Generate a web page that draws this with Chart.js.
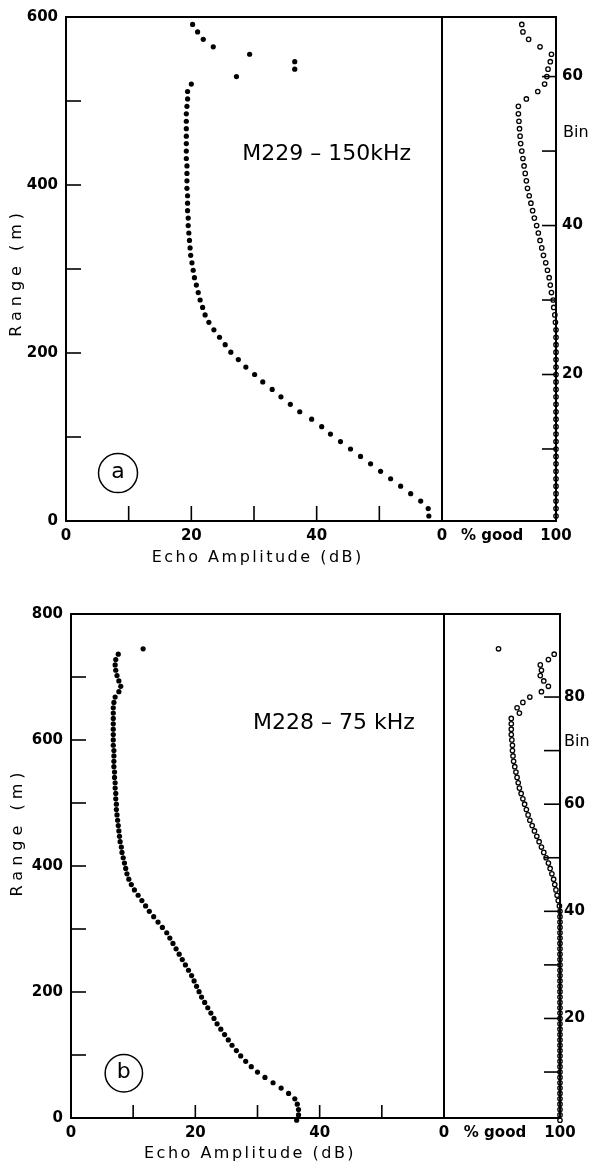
<!DOCTYPE html>
<html>
<head>
<meta charset="utf-8">
<script src="https://cdn.jsdelivr.net/npm/chart.js@4/dist/chart.umd.min.js"></script>
<style>
  html, body { margin: 0; padding: 0; background: #fff; }
  #folha { position: relative; width: 592px; height: 1163px; }
  .painel { position: absolute; left: 0; }
</style>
</head>
<body>
<div id="folha">
  <canvas id="graficoA" class="painel" style="top:0" width="592" height="580"></canvas>
  <canvas id="graficoB" class="painel" style="top:580px" width="592" height="583"></canvas>
</div>
<script>
// M229, 150 kHz : one value per depth bin
var binsA = [1, 2, 3, 4, 5, 6, 7, 8, 9, 10,
  11, 12, 13, 14, 15, 16, 17, 18, 19, 20,
  21, 22, 23, 24, 25, 26, 27, 28, 29, 30,
  31, 32, 33, 34, 35, 36, 37, 38, 39, 40,
  41, 42, 43, 44, 45, 46, 47, 48, 49, 50,
  51, 52, 53, 54, 55, 56, 57, 58, 59, 60,
  61, 62, 63, 64, 65, 66, 67];
var echoA = [57.9, 57.8, 56.6, 55.0, 53.4, 51.8, 50.2, 48.6, 47.0, 45.4,
  43.8, 42.2, 40.8, 39.2, 37.3, 35.8, 34.3, 32.9, 31.4, 30.1,
  28.7, 27.5, 26.3, 25.4, 24.5, 23.6, 22.8, 22.2, 21.8, 21.4,
  21.1, 20.8, 20.5, 20.3, 20.1, 19.9, 19.8, 19.7, 19.6, 19.5,
  19.5, 19.4, 19.4, 19.4, 19.3, 19.3, 19.3, 19.3, 19.2, 19.2,
  19.2, 19.2, 19.2, 19.2, 19.2, 19.3, 19.4, 19.4, 20.0, 27.2,
  36.5, 36.5, 29.3, 23.5, 21.9, 21.0, 20.2];
var goodA = [100, 100, 100, 100, 100, 100, 100, 100, 100, 100,
  100, 100, 100, 100, 100, 100, 100, 100, 100, 100,
  100, 100, 100, 100, 100, 100, 99.5, 99, 98, 97.5,
  96, 95, 94, 92.5, 91, 89, 87.5, 86, 84.5, 83,
  81, 79.5, 78, 76.5, 75, 74, 73, 72, 71, 70,
  69, 68.5, 68, 67.5, 67, 67, 74, 84, 90, 92,
  93, 95, 96, 86, 76, 71, 70];

// M228, 75 kHz
var binsB = [1, 2, 3, 4, 5, 6, 7, 8, 9, 10,
  11, 12, 13, 14, 15, 16, 17, 18, 19, 20,
  21, 22, 23, 24, 25, 26, 27, 28, 29, 30,
  31, 32, 33, 34, 35, 36, 37, 38, 39, 40,
  41, 42, 43, 44, 45, 46, 47, 48, 49, 50,
  51, 52, 53, 54, 55, 56, 57, 58, 59, 60,
  61, 62, 63, 64, 65, 66, 67, 68, 69, 70,
  71, 72, 73, 74, 75, 76, 77, 78, 79, 80,
  81, 82, 83, 84, 85, 86, 87, 88, 89];
var echoB = [36.3, 36.6, 36.6, 36.4, 36.0, 35.0, 33.8, 32.5, 31.2, 30.0,
  29.0, 28.1, 27.3, 26.6, 25.9, 25.3, 24.7, 24.1, 23.5, 23.0,
  22.5, 22.0, 21.5, 21.0, 20.6, 20.2, 19.8, 19.4, 18.9, 18.4,
  17.9, 17.4, 16.9, 16.4, 15.9, 15.4, 14.7, 14.0, 13.3, 12.6,
  12.0, 11.4, 10.8, 10.2, 9.7, 9.3, 9.0, 8.8, 8.6, 8.4,
  8.2, 8.1, 7.9, 7.8, 7.7, 7.6, 7.5, 7.4, 7.3, 7.3,
  7.2, 7.2, 7.1, 7.1, 7.0, 7.0, 6.9, 6.9, 6.9, 6.9,
  6.8, 6.8, 6.8, 6.8, 6.8, 6.8, 6.8, 6.8, 6.9, 7.1,
  7.7, 8.0, 7.7, 7.4, 7.2, 7.1, 7.2, 7.6, 11.6];
var goodB = [100, 100, 100, 100, 100, 100, 100, 100, 100, 100,
  100, 100, 100, 100, 100, 100, 100, 100, 100, 100,
  100, 100, 100, 100, 100, 100, 100, 100, 100, 100,
  100, 100, 100, 100, 100, 100, 100, 100, 100, 100,
  99.5, 98.5, 97.5, 96.5, 95.5, 94.5, 93, 91.5, 90, 88,
  86, 84, 82, 80, 78, 76, 74, 72.5, 71, 69.5,
  68, 66.5, 65, 64, 63, 62, 61, 60, 59.5, 59,
  59, 58.5, 58, 58, 58, 58, 65, 63, 68, 74,
  84, 90, 86, 83, 84, 83, 90, 95, 47];

// axis labels and tick marks
var ampLabels = [0, 20, 40];
var ampMarks = [10, 20, 30, 40, 50];
var goodLabels = [0, 44, 100];   // 44 carries the "% good" caption
var rangeLabelsA = [0, 200, 400, 600];
var rangeMarksA = [100, 200, 300, 400, 500];
var binLabelsA = [20, 40, 60];
var binMarksA = [10, 20, 30, 40, 50, 60];
var rangeLabelsB = [0, 200, 400, 600, 800];
var rangeMarksB = [100, 200, 300, 400, 500, 600, 700];
var binLabelsB = [20, 40, 60, 80];
var binMarksB = [10, 20, 30, 40, 50, 60, 70, 80];

Chart.defaults.font.family = "'DejaVu Sans', sans-serif";
Chart.defaults.color = '#000';

var painelA = {
  canvas: 'graficoA', top: 12, left: 66, right: 36, bottom: 59,
  ampWidth: 376, goodWidth: 114, rangeMax: 600, binMin: 0.33, binMax: 68, binPad: 6,
  bins: binsA, echo: echoA, good: goodA,
  rangeLabels: rangeLabelsA, rangeMarks: rangeMarksA, binLabels: binLabelsA, binMarks: binMarksA,
  titulo: 'M229 – 150kHz', tituloPos: [41.6, 437],
  letra: 'a', letraPos: [8.3, 57], raio: 19.5,
  binTexto: [7, 52.5], rangeTitulo: [17, 296], ampTitulo: [30.6, 37],
  tickLen: { range: 15, amp: 15, bin: 14 }
};

var painelB = {
  canvas: 'graficoB', top: 34, left: 71, right: 32, bottom: 45,
  ampWidth: 373, goodWidth: 116, rangeMax: 800, binMin: 1.42, binMax: 95.5, binPad: 4,
  bins: binsB, echo: echoB, good: goodB,
  rangeLabels: rangeLabelsB, rangeMarks: rangeMarksB, binLabels: binLabelsB, binMarks: binMarksB,
  titulo: 'M228 – 75 kHz', tituloPos: [42.3, 627],
  letra: 'b', letraPos: [8.5, 71], raio: 18.7,
  binTexto: [4, 71.6], rangeTitulo: [18, 454], ampTitulo: [28.8, 36],
  tickLen: { range: 15, amp: 13, bin: 16 }
};

function linha(ctx, x1, y1, x2, y2) {
  ctx.beginPath();
  ctx.moveTo(x1, y1);
  ctx.lineTo(x2, y2);
  ctx.stroke();
}

// frame, divider and inward tick marks, plus the free text of each panel
var moldura = {
  id: 'moldura',
  beforeDatasetsDraw: function(chart, args, p) {
    var ctx = chart.ctx, a = chart.chartArea;
    var amp = chart.scales.amp, range = chart.scales.range, bin = chart.scales.bin;
    ctx.save();
    ctx.strokeStyle = '#000';
    ctx.lineWidth = 2;
    ctx.strokeRect(a.left, a.top, a.right - a.left, a.bottom - a.top);
    var xd = amp.getPixelForValue(60);
    linha(ctx, xd, a.top, xd, a.bottom);

    ctx.lineWidth = 1.6;
    p.rangeMarks.forEach(function(v) {
      var y = range.getPixelForValue(v);
      linha(ctx, a.left, y, a.left + p.tickLen.range, y);
    });
    ampMarks.forEach(function(v) {
      var x = amp.getPixelForValue(v);
      linha(ctx, x, a.bottom, x, a.bottom - p.tickLen.amp);
    });
    p.binMarks.forEach(function(v) {
      var y = bin.getPixelForValue(v);
      linha(ctx, a.right, y, a.right - p.tickLen.bin, y);
    });
    ctx.restore();
  },
  afterDraw: function(chart, args, p) {
    var ctx = chart.ctx, a = chart.chartArea;
    var amp = chart.scales.amp, range = chart.scales.range, bin = chart.scales.bin;
    ctx.save();
    ctx.fillStyle = '#000';
    ctx.strokeStyle = '#000';
    ctx.textAlign = 'center';
    ctx.textBaseline = 'middle';

    ctx.font = "22px 'DejaVu Sans'";
    ctx.fillText(p.titulo, amp.getPixelForValue(p.tituloPos[0]), range.getPixelForValue(p.tituloPos[1]));

    var cx = amp.getPixelForValue(p.letraPos[0]), cy = range.getPixelForValue(p.letraPos[1]);
    ctx.lineWidth = 1.5;
    ctx.beginPath();
    ctx.arc(cx, cy, p.raio, 0, Math.PI * 2);
    ctx.stroke();
    ctx.fillText(p.letra, cx, cy - 1);

    ctx.font = "16px 'DejaVu Sans'";
    ctx.textAlign = 'left';
    ctx.fillText('Bin', a.right + p.binTexto[0], bin.getPixelForValue(p.binTexto[1]));

    ctx.textAlign = 'center';
    ctx.letterSpacing = '2.5px';
    ctx.fillText('Echo Amplitude (dB)', amp.getPixelForValue(p.ampTitulo[0]), a.bottom + p.ampTitulo[1]);

    ctx.letterSpacing = '5px';
    ctx.translate(p.rangeTitulo[0], range.getPixelForValue(p.rangeTitulo[1]));
    ctx.rotate(-Math.PI / 2);
    ctx.fillText('Range (m)', 0, 0);
    ctx.letterSpacing = '0px';
    ctx.restore();
  }
};

function listaTicks(valores) {
  return function(scale) {
    scale.ticks = valores.map(function(v) { return { value: v }; });
  };
}

function geraGrafico(p) {
  var fonte = { family: "'DejaVu Sans'", size: 15, weight: 'bold' };
  var escalaBase = { grid: { display: false, drawTicks: false }, border: { display: false } };
  return {
    type: 'scatter',
    data: {
      datasets: [{
        label: 'Echo Amplitude',
        data: p.bins.map(function(b, i) { return { x: p.echo[i], y: b }; }),
        xAxisID: 'amp', yAxisID: 'bin',
        pointStyle: 'circle', pointRadius: 2.6, pointBorderWidth: 0,
        pointBackgroundColor: '#000', clip: false
      }, {
        label: '% good',
        data: p.bins.map(function(b, i) { return { x: p.good[i], y: b }; }),
        xAxisID: 'good', yAxisID: 'bin',
        pointStyle: 'circle', pointRadius: 2.2, pointBorderWidth: 1.3,
        pointBorderColor: '#000', pointBackgroundColor: 'rgba(0,0,0,0)', clip: false
      }]
    },
    options: {
      responsive: false,
      animation: false,
      events: [],
      layout: { padding: { top: p.top, left: 0, right: 0, bottom: 0 } },
      plugins: { legend: { display: false }, tooltip: { enabled: false }, moldura: p },
      scales: {
        amp: Object.assign({}, escalaBase, {
          type: 'linear', axis: 'x', position: 'bottom', stack: 'base', stackWeight: p.ampWidth,
          min: 0, max: 60,
          afterBuildTicks: listaTicks(ampLabels),
          afterFit: function(s) { s.height = p.bottom; },
          ticks: { font: fonte, padding: 6, autoSkip: false, maxRotation: 0 }
        }),
        good: Object.assign({}, escalaBase, {
          type: 'linear', axis: 'x', position: 'bottom', stack: 'base', stackWeight: p.goodWidth,
          min: 0, max: 100,
          afterBuildTicks: listaTicks(goodLabels),
          afterFit: function(s) { s.height = p.bottom; },
          ticks: {
            font: fonte, padding: 6, autoSkip: false, maxRotation: 0,
            callback: function(v) { return v === 44 ? '% good' : v; }
          }
        }),
        range: Object.assign({}, escalaBase, {
          type: 'linear', axis: 'y', position: 'left',
          min: 0, max: p.rangeMax,
          afterBuildTicks: listaTicks(p.rangeLabels),
          afterFit: function(s) { s.width = p.left; },
          ticks: { font: fonte, padding: 8, autoSkip: false }
        }),
        bin: Object.assign({}, escalaBase, {
          type: 'linear', axis: 'y', position: 'right',
          min: p.binMin, max: p.binMax,
          afterBuildTicks: listaTicks(p.binLabels),
          afterFit: function(s) { s.width = p.right; },
          ticks: { font: fonte, padding: p.binPad, autoSkip: false }
        })
      }
    },
    plugins: [moldura]
  };
}

window.onload = function() {
  [painelA, painelB].forEach(function(p) {
    var ctx = document.getElementById(p.canvas).getContext('2d');
    new Chart(ctx, geraGrafico(p));
  });
};
</script>
</body>
</html>
